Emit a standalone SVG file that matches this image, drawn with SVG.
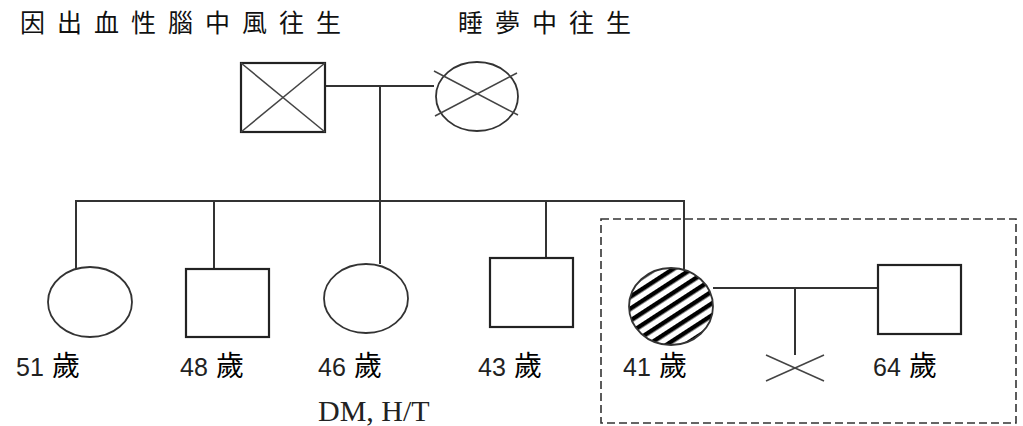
<svg xmlns="http://www.w3.org/2000/svg" width="1023" height="426" viewBox="0 0 1023 426">
<style>
.ln{stroke:#333;stroke-width:2;fill:none}
.sq{stroke:#222;stroke-width:2.2;fill:#fff}
.el{stroke:#333;stroke-width:1.8;fill:#fff}
.x{stroke:#444;stroke-width:1.5;fill:none}
.cj{font-family:"Noto Sans CJK TC","Noto Sans CJK SC",sans-serif;font-size:25px;fill:#111;letter-spacing:12px}
.lb{font-family:"Liberation Sans",Arial,sans-serif;font-size:25px;fill:#222}
.lbc{font-family:"Noto Sans CJK TC","Noto Sans CJK SC",sans-serif;font-size:28px}
.tm{font-family:"Liberation Serif","Times New Roman",serif;font-size:30px;fill:#222}
</style>
<defs>
<pattern id="hatch" patternUnits="userSpaceOnUse" width="10" height="10" patternTransform="rotate(-33)">
<rect width="10" height="10" fill="#fff"/>
<rect width="10" height="4.5" fill="#000"/>
</pattern>
</defs>
<rect width="1023" height="426" fill="#fff"/>
<text class="cj" x="20" y="32">因出血性腦中風往生</text>
<text class="cj" x="458" y="32">睡夢中往生</text>
<g id="connectors">
<line class="ln" x1="325" y1="86" x2="434" y2="86"/>
<line class="ln" x1="380" y1="86" x2="380" y2="201"/>
<line class="ln" x1="75" y1="201" x2="685" y2="201"/>
<line class="ln" x1="76" y1="200" x2="76" y2="269"/>
<line class="ln" x1="214" y1="200" x2="214" y2="269"/>
<line class="ln" x1="380" y1="200" x2="380" y2="264"/>
<line class="ln" x1="546" y1="200" x2="546" y2="268"/>
<line class="ln" x1="684" y1="200" x2="684" y2="269"/>
<line class="ln" x1="713" y1="288" x2="878" y2="288"/>
<line class="ln" x1="795" y1="288" x2="795" y2="355"/>
</g>
<g id="father">
<rect class="sq" x="241" y="63" width="84" height="69"/>
<line class="x" x1="241" y1="63" x2="325" y2="132"/>
<line class="x" x1="325" y1="63" x2="241" y2="132"/>
</g>
<g id="mother">
<ellipse class="el" cx="477" cy="96.5" rx="41" ry="34.5"/>
<line class="x" x1="434" y1="71" x2="518" y2="115"/>
<line class="x" x1="435" y1="116" x2="517" y2="73"/>
</g>
<g id="child51">
<ellipse class="el" cx="90" cy="302" rx="42" ry="35"/>
<text x="16" y="376"><tspan class="lb">51</tspan><tspan class="lbc" x="52">歲</tspan></text>
</g>
<g id="child48">
<rect class="sq" x="186" y="269" width="83" height="68"/>
<text x="180" y="376"><tspan class="lb">48</tspan><tspan class="lbc" x="216">歲</tspan></text>
</g>
<g id="child46">
<ellipse class="el" cx="366" cy="298.5" rx="42" ry="34.5"/>
<text x="318" y="376"><tspan class="lb">46</tspan><tspan class="lbc" x="354">歲</tspan></text>
<text class="tm" x="318" y="421">DM, H/T</text>
</g>
<g id="child43">
<rect class="sq" x="490" y="258" width="83" height="69"/>
<text x="478" y="376"><tspan class="lb">43</tspan><tspan class="lbc" x="514">歲</tspan></text>
</g>
<g id="child41">
<ellipse cx="671" cy="306.5" rx="42" ry="38.5" fill="url(#hatch)" stroke="#333" stroke-width="1.8"/>
<text x="623" y="376"><tspan class="lb">41</tspan><tspan class="lbc" x="659">歲</tspan></text>
</g>
<g id="spouse64">
<rect class="sq" x="878" y="265" width="83" height="69"/>
<text x="873" y="376"><tspan class="lb">64</tspan><tspan class="lbc" x="909">歲</tspan></text>
</g>
<g id="miscarriage">
<line class="x" x1="766" y1="355" x2="824" y2="381"/>
<line class="x" x1="766" y1="381" x2="824" y2="355"/>
</g>
<g id="household">
<rect x="601" y="219" width="415" height="204" fill="none" stroke="#333" stroke-width="1.6" stroke-dasharray="8 4"/>
</g>
</svg>
